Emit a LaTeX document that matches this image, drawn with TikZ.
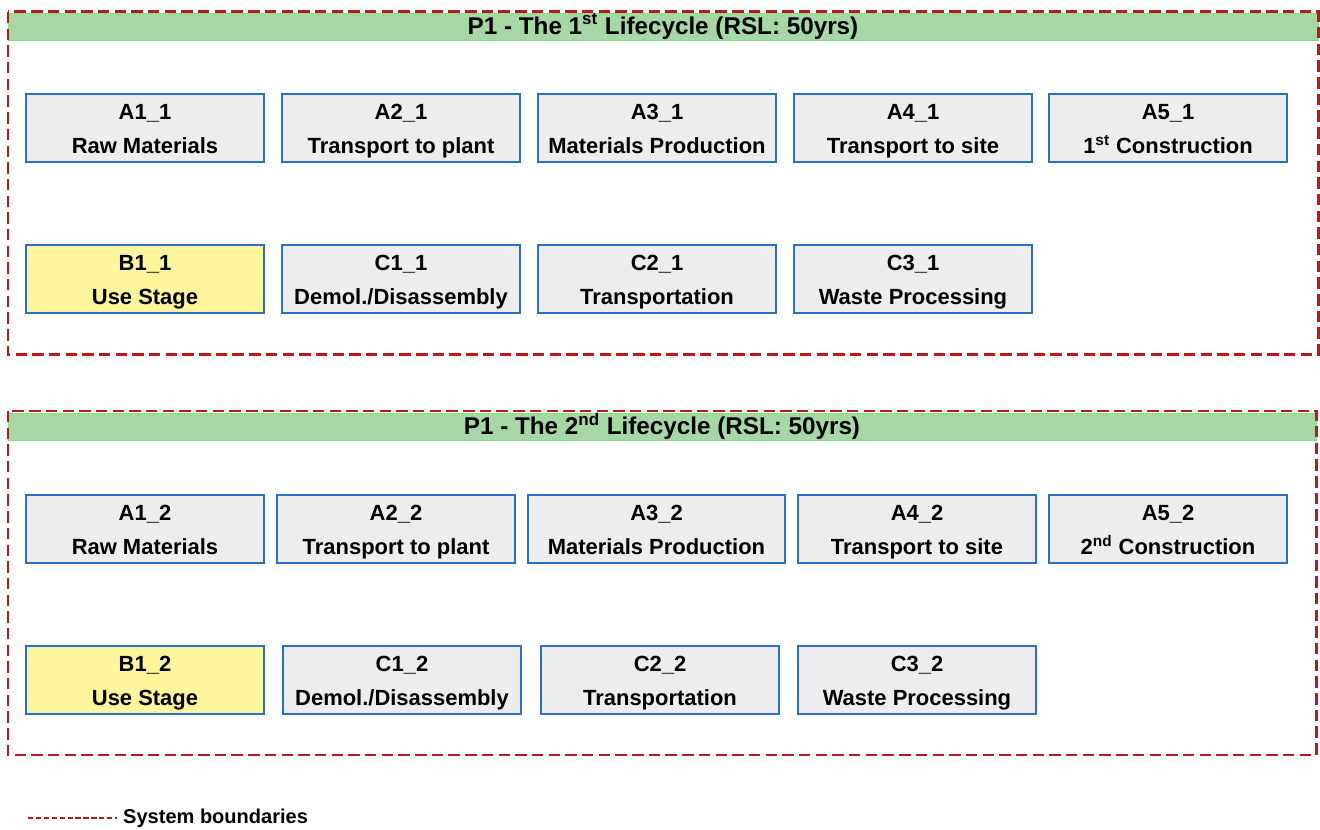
\documentclass[tikz,border=0pt]{standalone}
\usepackage{fontspec}
\setmainfont{Liberation Sans}
\usepackage{xcolor}
\usetikzlibrary{positioning}

\definecolor{boundred}{HTML}{C0171C}
\definecolor{headgreen}{HTML}{A6D8A6}
\definecolor{boxblue}{HTML}{2A6FC9}
\definecolor{boxgray}{HTML}{EDEDED}
\definecolor{useyellow}{HTML}{FFF59D}

% zwei Zeilen mit gleicher Grundlinie
\newcommand{\stagetext}[2]{\rule{0pt}{14.4pt}#1\\\rule[-4.6pt]{0pt}{13pt}#2}

\begin{document}
\begin{tikzpicture}[
        x=0.02cm, y=-0.02cm,
        font=\fontsize{12.5}{19}\selectfont\bfseries,
        stagebox/.style={draw=boxblue, fill=boxgray, line width=1.3pt, rectangle, minimum width=4.76cm, minimum height=1.36cm, align=center, inner sep=0pt},
        usebox/.style={stagebox, fill=useyellow},
        boundary/.style={draw=boundred, line width=1.7pt, dash pattern=on 6.5pt off 3pt},
        header/.style={fill=headgreen, draw=headgreen!80!green, line width=0.4pt},
        titletext/.style={font=\fontsize{13.8}{16}\selectfont\bfseries}
    ]

    \useasboundingbox (0,0) rectangle (1320,830);

    % Erster Lebenszyklus
    \draw[header] (8,13) rectangle (1318,40);
    \node[titletext] (title1) at (663,26.5) {P1 - The 1\textsuperscript{st} Lifecycle (RSL: 50yrs)};
    \draw[boundary] (8,12) rectangle (1318,355);

    \node[stagebox] (a11) at (145,128) {\stagetext{A1\_1}{Raw Materials}};
    \node[stagebox] (a21) at (401,128) {\stagetext{A2\_1}{Transport to plant}};
    \node[stagebox] (a31) at (657,128) {\stagetext{A3\_1}{Materials Production}};
    \node[stagebox] (a41) at (913,128) {\stagetext{A4\_1}{Transport to site}};
    \node[stagebox] (a51) at (1168,128) {\stagetext{A5\_1}{1\textsuperscript{st} Construction}};

    \node[usebox] (b11) at (145,279) {\stagetext{B1\_1}{Use Stage}};
    \node[stagebox] (c11) at (401,279) {\stagetext{C1\_1}{Demol./Disassembly}};
    \node[stagebox] (c21) at (657,279) {\stagetext{C2\_1}{Transportation}};
    \node[stagebox] (c31) at (913,279) {\stagetext{C3\_1}{Waste Processing}};

    % Zweiter Lebenszyklus
    \draw[header] (8,413) rectangle (1316,440);
    \node[titletext] (title2) at (662,426.5) {P1 - The 2\textsuperscript{nd} Lifecycle (RSL: 50yrs)};
    \draw[boundary] (8,411) rectangle (1316,755);

    \node[stagebox] (a12) at (145,529) {\stagetext{A1\_2}{Raw Materials}};
    \node[stagebox] (a22) at (396,529) {\stagetext{A2\_2}{Transport to plant}};
    \node[stagebox, minimum width=5.14cm] (a32) at (656.5,529) {\stagetext{A3\_2}{Materials Production}};
    \node[stagebox] (a42) at (917,529) {\stagetext{A4\_2}{Transport to site}};
    \node[stagebox] (a52) at (1168,529) {\stagetext{A5\_2}{2\textsuperscript{nd} Construction}};

    \node[usebox] (b12) at (145,680) {\stagetext{B1\_2}{Use Stage}};
    \node[stagebox] (c12) at (402,680) {\stagetext{C1\_2}{Demol./Disassembly}};
    \node[stagebox] (c22) at (660,680) {\stagetext{C2\_2}{Transportation}};
    \node[stagebox] (c32) at (917,680) {\stagetext{C3\_2}{Waste Processing}};

    % Legende
    \coordinate (legstart) at (28,818);
    \node[anchor=west, font=\fontsize{11.4}{13}\selectfont\bfseries] (legtext) at (117,818) {System boundaries};
    \draw[draw=boundred, line width=0.8pt, dash pattern=on 3pt off 1.5pt] (legstart) -- (legtext.west);

\end{tikzpicture}
\end{document}
